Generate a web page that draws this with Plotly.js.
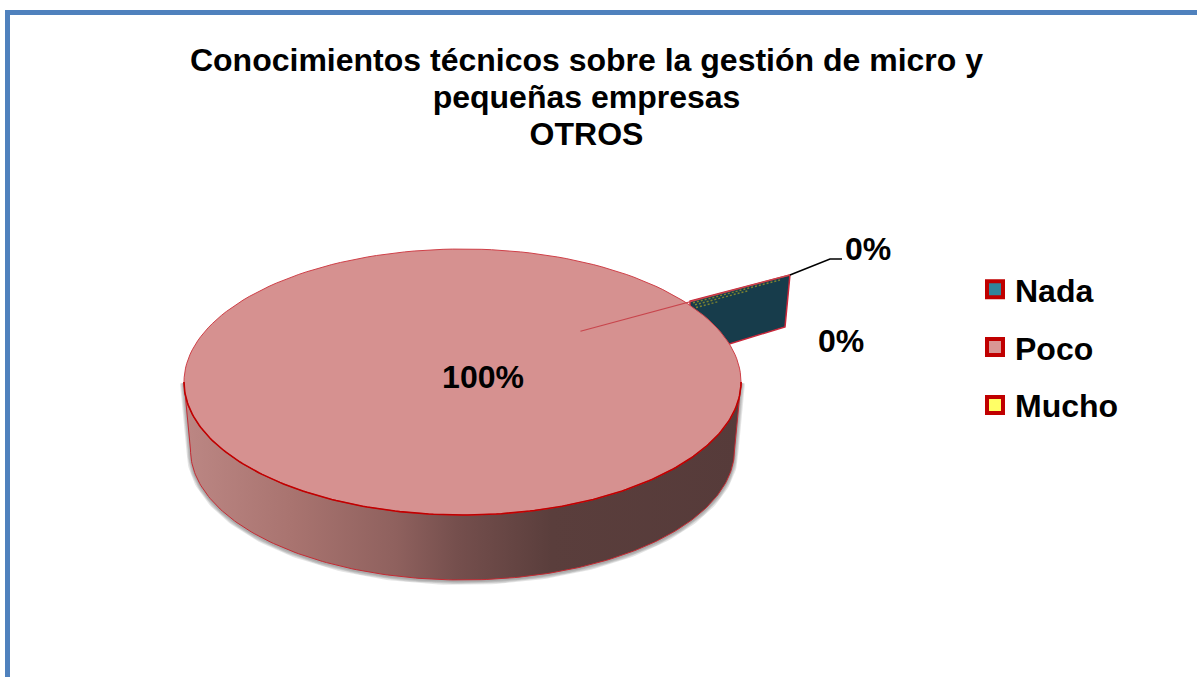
<!DOCTYPE html>
<html><head><meta charset="utf-8">
<script src="https://cdn.plot.ly/plotly-3.0.1.min.js"></script>
<style>html,body{margin:0;padding:0;background:#fff;overflow:hidden}#chart{width:1197px;height:677px}</style>
</head><body><div id="chart"></div>
<script>
// ---- data ----
const categories = ['Nada', 'Poco', 'Mucho'];
const percentages = [0, 100, 0];
const legendFills = ['#31859C', '#D99694', '#FFFF66'];
const titleLines = ['Conocimientos técnicos sobre la gestión de micro y', 'pequeñas empresas', 'OTROS'];

// ---- drawing configuration ----
const W = 1197, H = 677, FONT = '"Liberation Sans", Arial, sans-serif';
const top3d = {cx: 462.5, cy: 382, rx: 278.5, ry: 133};
const base3d = {cx: 462.5, cy: 450, rx: 272, ry: 130};
const RED = '#C00000';
const sideStops = [[0, '#BC8784'], [0.2, '#A8736F'], [0.38, '#8F615E'], [0.49, '#754F4D'], [0.66, '#5A3E3C'], [1, '#563B3A']];
// tail left by the zero-size slice, as [radius factor, angle in degrees] on the disc
const tailPolar = [[1.425, 34.4], [1.23, 19.7], [1, 16.6], [0.9, 25], [1.019, 36.7]];
const ruleStart = [0.57, 42];
const leaderAnchors = [[830, 259], [842, 259]];
const labelAnchors = [[868, 252], [483, 380], [841, 344]];
// stipple rows: [offset below the upper tail edge in px, start fraction, end fraction]
const stippleRows = [[2.5, 0.03, 0.9], [5, 0.05, 0.58], [8, 0.06, 0.28]];

function polar(r, deg, e) {
  const a = deg * Math.PI / 180;
  return [e.cx + e.rx * r * Math.cos(a), e.cy - e.ry * r * Math.sin(a)];
}
function arc(e, from, to) {
  const pts = [], n = 180;
  for (let i = 0; i <= n; i++) pts.push(polar(1, from + (to - from) * i / n, e));
  return pts;
}
const xs = p => p.map(q => q[0]);
const ys = p => p.map(q => q[1]);

const traces = [];
const plain = {hoverinfo: 'skip', showlegend: false, type: 'scatter', cliponaxis: false};

const wall = arc(top3d, 180, 360).concat(arc(base3d, 360, 180));
wall.push(wall[0]);

// soft shadow around the side wall
[8, 6, 4, 2].forEach(w => {
  traces.push({...plain, x: xs(wall), y: ys(wall).map(v => v + 1), mode: 'lines', line: {width: w, color: 'rgba(70,70,70,0.14)'}});
});

// tail of the zero slices
const tail = tailPolar.map(p => polar(p[0], p[1], top3d));
const tip = tail[0], rim = tail[tail.length - 1];
traces.push({...plain, x: xs(tail).concat(tip[0]), y: ys(tail).concat(tip[1]), mode: 'lines', fill: 'toself', fillcolor: '#173C4B', line: {color: '#C9273A', width: 1.5}});
// stippled remains of the second zero slice, along the upper tail edge
stippleRows.forEach(r => {
  const pt = f => [rim[0] + (tip[0] - rim[0]) * f, rim[1] + (tip[1] - rim[1]) * f + r[0]];
  const a = pt(r[1]), b = pt(r[2]);
  traces.push({...plain, x: [a[0], b[0]], y: [a[1], b[1]], mode: 'lines', line: {color: '#7C8230', width: 1.5, dash: '2px,2px'}});
});

// side wall
traces.push({...plain, x: xs(wall), y: ys(wall), mode: 'lines', fill: 'toself',
  fillgradient: {type: 'horizontal', start: top3d.cx - top3d.rx, stop: top3d.cx + top3d.rx, colorscale: sideStops},
  line: {color: '#C42A33', width: 1}});

// top of the Poco slice: its sweep comes from its share of the total
const total = percentages.reduce((a, b) => a + b, 0);
const sweep = 360 * percentages[1] / total;
const disc = arc(top3d, 0, sweep);
traces.push({...plain, x: xs(disc), y: ys(disc), mode: 'lines', fill: 'toself', fillcolor: '#D69190', line: {color: '#CF4048', width: 1}});
const frontRim = arc(top3d, 180, 360);
traces.push({...plain, x: xs(frontRim), y: ys(frontRim), mode: 'lines', line: {color: RED, width: 1.6}});

// slice edge running out to the tail tip
const r0 = polar(ruleStart[0], ruleStart[1], top3d);
traces.push({...plain, x: [r0[0], tip[0]], y: [r0[1], tip[1]], mode: 'lines', line: {color: '#C8454C', width: 1.2}});

// leader line to the upper label
traces.push({...plain, x: [tip[0]].concat(xs(leaderAnchors)), y: [tip[1]].concat(ys(leaderAnchors)), mode: 'lines', line: {color: '#000', width: 1.6}});

// data labels
traces.push({...plain, x: xs(labelAnchors), y: ys(labelAnchors), mode: 'text',
  text: percentages.map(v => v + '%'), textposition: 'middle center',
  textfont: {family: FONT, size: 32, color: '#000', weight: 700}});

// legend entries
categories.forEach((c, i) => traces.push({type: 'scatter', x: [null], y: [null], mode: 'markers', name: c, legendgroup: c,
  showlegend: true, hoverinfo: 'skip',
  marker: {symbol: 'square', size: 16, color: legendFills[i], line: {color: RED, width: 4}}}));

const layout = {
  width: W, height: H, autosize: false,
  margin: {l: 0, r: 0, t: 0, b: 0},
  paper_bgcolor: '#fff', plot_bgcolor: '#fff',
  title: {text: titleLines.map(t => '<span style="font-size:32px">' + t + '</span>').join('<br>'),
    font: {family: FONT, size: 28.5, color: '#000', weight: 700},
    x: 586.5 / W, xanchor: 'center', y: 1 - 71 / H, yanchor: 'top'},
  xaxis: {range: [0, W], visible: false, fixedrange: true},
  yaxis: {range: [H, 0], visible: false, fixedrange: true},
  legend: {x: 975 / W, y: 1 - 262 / H, xanchor: 'left', yanchor: 'top', tracegroupgap: 13.2, bgcolor: 'rgba(0,0,0,0)',
    font: {family: FONT, size: 32, color: '#000', weight: 700}},
  shapes: [{type: 'rect', xref: 'x', yref: 'y', x0: 7.5, y0: 12.5, x1: W + 20, y1: H + 20, line: {color: '#4F81BD', width: 5}, layer: 'below'}],
  showlegend: true
};
Plotly.newPlot('chart', traces, layout, {displayModeBar: false, staticPlot: true});
</script></body></html>
